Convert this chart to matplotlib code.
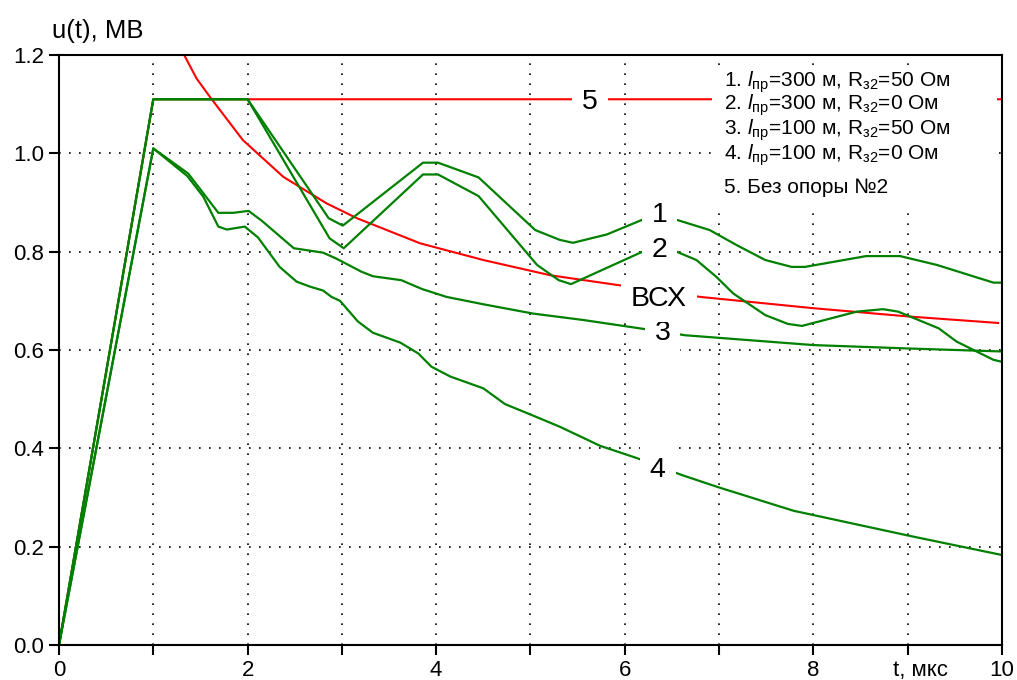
import matplotlib
matplotlib.use("Agg")
import matplotlib.pyplot as plt
from matplotlib.ticker import MultipleLocator, FuncFormatter
from matplotlib.patches import Rectangle

plt.rcParams['font.family'] = ['Liberation Sans', 'DejaVu Sans']
plt.rcParams['mathtext.fontset'] = 'custom'
plt.rcParams['mathtext.rm'] = 'Liberation Sans'
plt.rcParams['mathtext.it'] = 'Liberation Sans:italic'

# 1: l=300 м, R=50 Ом
t1 = [0, 1.0, 2.0, 2.86, 3.01, 3.86, 4.02, 4.45, 5.05, 5.31, 5.45, 5.81, 6.20, 6.53,
      6.90, 7.19, 7.49, 7.77, 7.91, 8.56, 8.92, 9.31, 9.91, 10.0]
u1 = [0, 1.11, 1.11, 0.868, 0.853, 0.981, 0.981, 0.951, 0.844, 0.824, 0.818, 0.835, 0.866, 0.866,
      0.844, 0.813, 0.783, 0.769, 0.769, 0.791, 0.791, 0.773, 0.737, 0.737]

# 2: l=300 м, R=0 Ом
t2 = [0, 1.0, 2.0, 2.87, 3.02, 3.86, 4.02, 4.45, 5.07, 5.30, 5.43, 6.20, 6.55, 6.76, 6.97,
      7.15, 7.49, 7.73, 7.88, 8.46, 8.74, 8.90, 9.33, 9.52, 9.91, 10.0]
u2 = [0, 1.11, 1.11, 0.827, 0.807, 0.957, 0.957, 0.913, 0.773, 0.742, 0.734, 0.801, 0.800, 0.783, 0.749,
      0.715, 0.671, 0.653, 0.649, 0.678, 0.683, 0.678, 0.644, 0.617, 0.580, 0.576]

# 3: l=100 м, R=50 Ом
t3 = [0, 1.0, 1.37, 1.69, 1.85, 2.01, 2.15, 2.49, 2.80, 2.94, 3.21, 3.33, 3.63, 3.85, 4.11,
      4.50, 5.03, 5.56, 6.16, 6.64, 8.0, 9.02, 10.0]
u3 = [0, 1.01, 0.959, 0.879, 0.879, 0.883, 0.863, 0.807, 0.798, 0.786, 0.759, 0.750, 0.742, 0.724, 0.708,
      0.693, 0.674, 0.661, 0.644, 0.630, 0.610, 0.603, 0.597]

# 4: l=100 м, R=0 Ом
t4 = [0, 1.0, 1.36, 1.53, 1.69, 1.78, 1.97, 2.11, 2.34, 2.52, 2.66, 2.80, 2.89, 2.98, 3.17, 3.33,
      3.62, 3.81, 3.95, 4.15, 4.50, 4.73, 5.01, 5.31, 5.74, 6.13, 6.60, 6.99, 7.79, 9.02, 10.0]
u4 = [0, 1.01, 0.954, 0.912, 0.851, 0.845, 0.851, 0.829, 0.769, 0.739, 0.729, 0.721, 0.708, 0.700, 0.658, 0.635,
      0.615, 0.593, 0.566, 0.546, 0.522, 0.490, 0.468, 0.444, 0.405, 0.380, 0.346, 0.321, 0.273, 0.222, 0.183]

# 5: без опоры №2
t5 = [0, 1.0, 10.0]
u5 = [0, 1.11, 1.11]

# ВСХ
tv = [1.30, 1.46, 1.60, 1.95, 2.38, 2.84, 3.16, 3.83, 4.50, 5.21, 5.93, 6.80, 8.0, 9.02, 9.96]
uv = [1.21, 1.152, 1.115, 1.027, 0.952, 0.898, 0.868, 0.817, 0.783, 0.752, 0.732, 0.708, 0.685, 0.668, 0.655]

# подписи кривых
lab_text = ['1', '2', '3', '4', '5', 'ВСХ']
lab_t = [6.37, 6.37, 6.40, 6.35, 5.63, 6.36]
lab_u = [0.875, 0.803, 0.635, 0.356, 1.104, 0.703]

legend_lines = [
    r"1. $\mathit{l}_{\mathrm{пр}}$=300 м, R$_{\mathrm{з2}}$=50 Ом",
    r"2. $\mathit{l}_{\mathrm{пр}}$=300 м, R$_{\mathrm{з2}}$=0 Ом",
    r"3. $\mathit{l}_{\mathrm{пр}}$=100 м, R$_{\mathrm{з2}}$=50 Ом",
    r"4. $\mathit{l}_{\mathrm{пр}}$=100 м, R$_{\mathrm{з2}}$=0 Ом",
    "5. Без опоры №2",
]
legend_y = [0.9458, 0.9068, 0.8644, 0.8220, 0.7661]

green = '#008000'
red = '#ff0000'

fig = plt.figure(figsize=(10.17, 6.8), dpi=100)
ax = fig.add_axes([0.058, 0.0515, 0.9272, 0.8676])

ax.plot(t5, u5, color=red, lw=1.5, zorder=2)
ax.plot(tv, uv, color=red, lw=1.5, zorder=2)
for t, u in [(t1, u1), (t2, u2), (t3, u3), (t4, u4)]:
    ax.plot(t, u, color=green, lw=1.6, zorder=2)

for s, x, y in zip(lab_text, lab_t, lab_u):
    ax.text(x, y, s, fontsize=20.5, ha='center', va='center', zorder=4,
            bbox=dict(boxstyle='square,pad=0.35', fc='white', ec='none'))

ax.add_patch(Rectangle((0.692, 0.746), 0.303, 0.235, transform=ax.transAxes,
                       fc='white', ec='none', zorder=3))
for s, y in zip(legend_lines, legend_y):
    ax.text(0.705, y, s, transform=ax.transAxes, fontsize=15, va='baseline', ha='left', zorder=4)

ax.set_xlim(0, 10)
ax.set_ylim(0, 1.2)
ax.xaxis.set_major_locator(MultipleLocator(1))
ax.xaxis.set_major_formatter(FuncFormatter(lambda v, p: f"{v:.0f}" if round(v) % 2 == 0 else ""))
ax.yaxis.set_major_locator(MultipleLocator(0.2))
ax.yaxis.set_major_formatter(FuncFormatter(lambda v, p: f"{v:.1f}"))
ax.tick_params(direction='out', length=7.5, width=1.5, labelsize=16)
ax.tick_params(axis='x', pad=3)
ax.tick_params(axis='y', pad=3)
for sp in ax.spines.values():
    sp.set_linewidth(1.5)
ax.set_axisbelow(True)
ax.grid(True, color='black', lw=1.2, linestyle=(0, (1, 5)))

ax.annotate("t, мкс", xy=(0.914, 0), xycoords='axes fraction', xytext=(0, -10.5),
            textcoords='offset points', ha='center', va='top', fontsize=16)
fig.text(52 / 1017, 1 - 31 / 680, "u(t), МВ", ha='left', va='center', fontsize=18.5)

fig.savefig("out.png", dpi=100)
